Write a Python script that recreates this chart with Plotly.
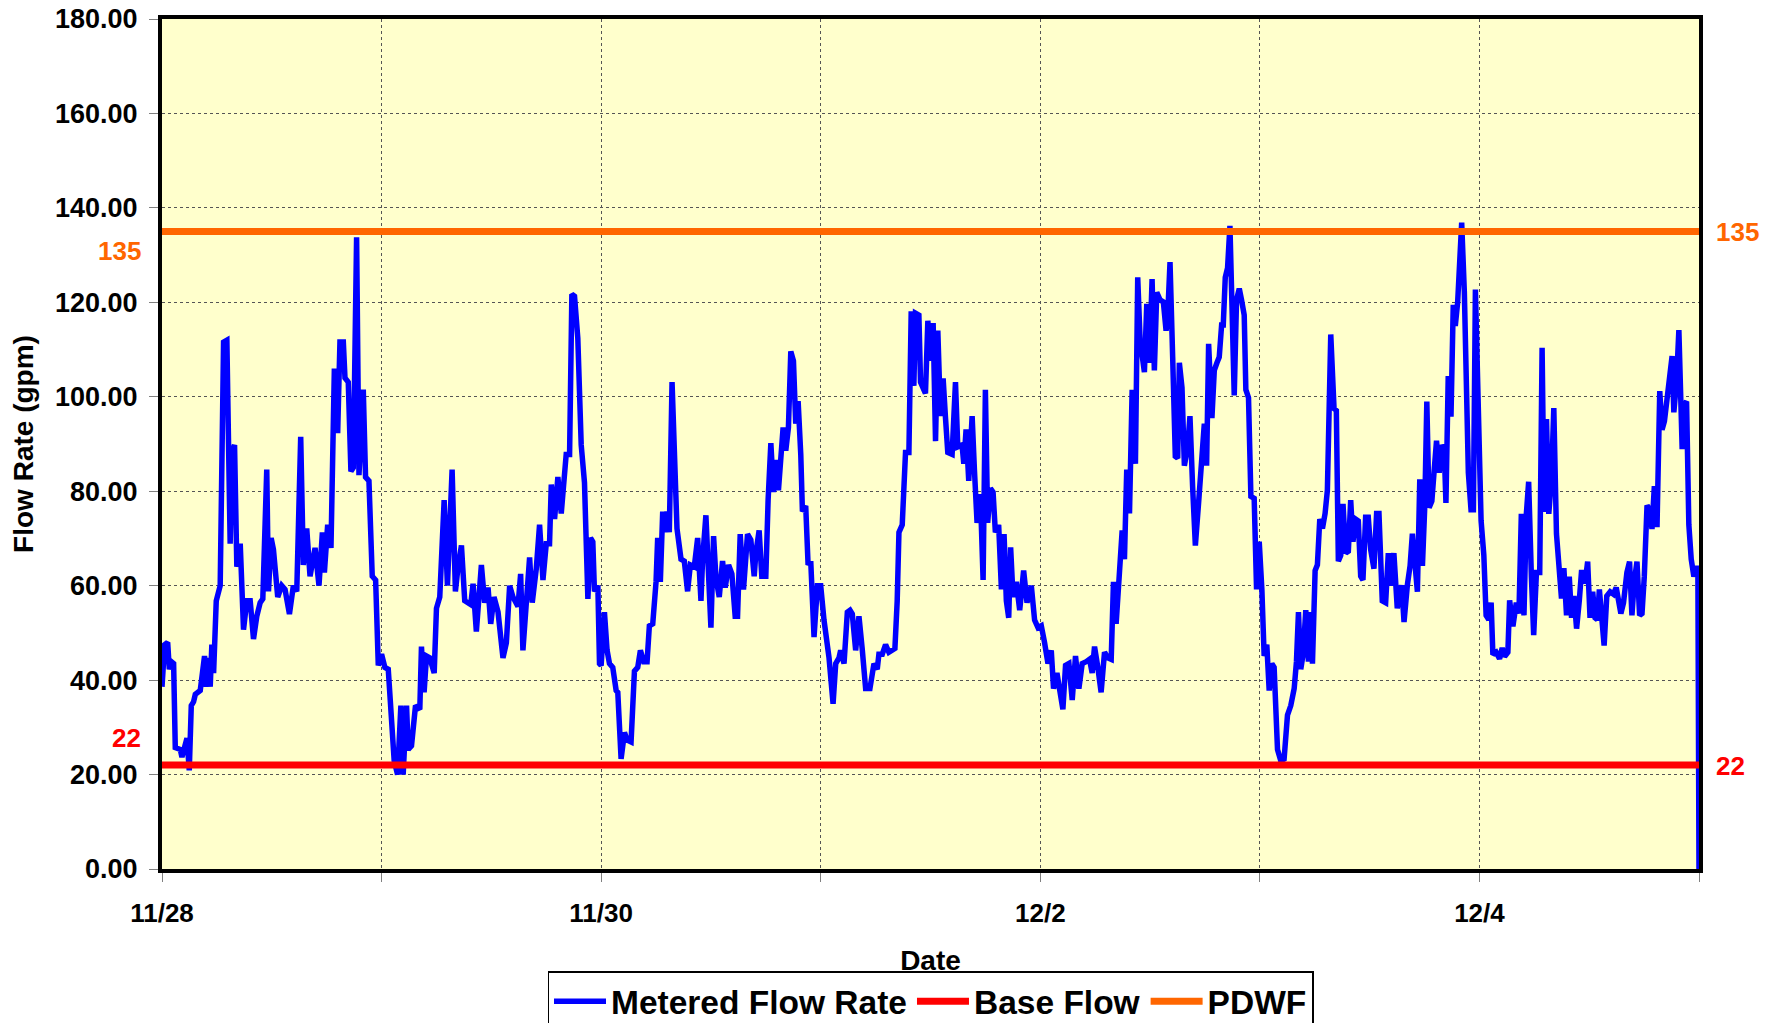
import pandas as pd
import plotly.graph_objects as go

# ---------------- data ----------------
start_date = "2008-11-28 00:00"
end_date = "2008-12-05 00:00"

# hours after 11/28 00:00
flow_hours = [
    0.0, 0.29, 0.62, 0.8, 1.02, 1.27, 1.45, 2.0, 2.18, 2.55, 2.73, 2.98, 3.2, 3.45, 3.64, 4.18, 4.65, 4.84,
    5.09, 5.27, 5.45, 5.64, 5.93, 6.36, 6.55, 6.73, 7.09, 7.27, 7.45, 7.64, 7.93, 8.18, 8.55, 8.91, 9.27,
    9.64, 10.0, 10.36, 10.73, 11.02, 11.45, 11.64, 11.93, 12.18, 12.65, 13.09, 13.45, 13.93, 14.36, 14.73,
    15.16, 15.45, 15.82, 16.18, 16.73, 17.16, 17.53, 17.75, 18.11, 18.47, 18.84, 19.2, 19.45, 19.82, 20.0,
    20.36, 20.65, 20.91, 21.27, 21.53, 22.0, 22.25, 22.62, 22.98, 23.35, 23.64, 24.0, 24.36, 24.73, 25.38,
    25.75, 26.11, 26.36, 26.73, 26.91, 27.27, 27.71, 28.18, 28.36, 28.65, 28.91, 29.27, 29.75, 30.0, 30.36,
    30.84, 31.2, 31.71, 32.07, 32.36, 32.73, 33.09, 33.75, 34.0, 34.36, 34.91, 35.27, 35.64, 35.93, 36.29,
    36.73, 37.27, 37.64, 38.0, 38.36, 38.91, 39.2, 39.45, 39.82, 40.18, 40.47, 40.91, 41.27, 41.64, 42.0,
    42.36, 42.55, 42.91, 43.27, 43.64, 44.18, 44.55, 44.8, 45.09, 45.45, 45.82, 46.18, 46.55, 46.84, 47.09,
    47.27, 47.64, 47.82,
    48.0, 48.36, 48.65, 48.91, 49.27, 49.64, 49.82, 50.18, 50.55, 50.84, 51.27, 51.64, 52.0, 52.29, 52.65,
    53.02, 53.27, 53.64, 54.0, 54.18, 54.47, 54.73, 54.98, 55.2, 55.45, 55.75, 56.07, 56.29, 56.73, 57.09,
    57.45, 57.75, 58.18, 58.55, 58.91, 59.09, 59.45, 59.71, 60.0, 60.29, 60.55, 60.91, 61.27, 61.56, 61.93,
    62.29, 62.65, 62.91, 63.2, 63.56, 64.0, 64.36, 64.73, 64.91, 65.27, 65.56, 66.0, 66.25, 66.55, 66.84,
    67.09, 67.38, 67.64, 67.89, 68.18, 68.47, 68.73, 69.02, 69.27, 69.53, 69.82, 70.0, 70.36, 70.62, 70.91,
    71.27, 71.64, 72.0, 72.36, 72.91, 73.35, 73.64, 74.0, 74.18, 74.55, 74.91, 75.2, 75.45, 75.82, 76.18,
    76.55, 76.91, 77.38, 77.82, 78.18, 78.36, 78.73, 79.09, 79.45, 79.82, 80.11, 80.36, 80.55, 80.91, 81.27,
    81.64, 81.89, 82.18, 82.36, 82.73, 82.91, 83.45, 83.71, 84.0, 84.29, 84.55, 84.8, 85.09, 85.38, 85.64,
    85.89, 86.36, 86.73, 86.98, 87.45, 87.64, 87.89, 88.18, 88.55, 88.8, 89.09, 89.45, 89.75, 90.0, 90.25,
    90.55, 90.84, 91.09, 91.45,
    91.75, 92.04, 92.29, 92.55, 92.76, 93.02, 93.38, 93.75, 94.18, 94.55, 95.02, 95.38, 95.75, 96.11, 96.47,
    96.84, 97.2, 97.45, 97.82, 98.18, 98.47, 98.76, 99.13, 99.49, 99.85, 100.22, 100.58, 101.02, 101.38,
    101.67, 101.93, 102.29, 102.65, 103.02, 103.38, 103.75, 104.0, 104.29, 104.73, 104.95, 105.2, 105.45,
    105.75, 106.04, 106.4, 106.65, 106.91, 107.38, 107.64, 107.93, 108.22, 108.47, 108.73, 109.09, 109.45,
    109.75, 109.93, 110.18, 110.47, 110.76, 111.02, 111.2, 111.49, 111.75, 112.11, 112.36, 112.65, 112.95,
    113.31, 113.67, 113.93, 114.18, 114.4, 114.76, 115.02, 115.31, 115.56, 115.82, 116.0, 116.22, 116.47,
    116.73, 117.02, 117.2, 117.45, 117.75, 118.0, 118.29, 118.47, 118.76, 119.02, 119.38, 119.64, 119.93,
    120.22, 120.47, 120.76, 121.02, 121.31, 121.56, 121.93, 122.29, 122.65, 123.02, 123.38, 123.75, 124.0,
    124.22, 124.47, 124.73, 125.02, 125.31, 125.56, 125.75, 126.04, 126.29, 126.55, 126.84, 127.13, 127.38,
    127.75, 128.11, 128.36, 128.58, 128.84, 129.09, 129.38, 129.67, 129.93, 130.18, 130.47, 130.76, 131.02,
    131.27, 131.56, 131.85, 132.11, 132.47, 132.76, 133.02, 133.38, 133.75, 134.04, 134.29, 134.65, 135.02,
    135.5, 135.76, 136.12, 136.42, 136.67, 136.93, 137.22, 137.48, 137.77, 138.03, 138.25, 138.5, 138.8,
    139.05, 139.31, 139.6, 139.9, 140.15, 140.34, 140.59, 140.89, 141.14, 141.36, 141.62, 141.8, 142.06,
    142.35, 142.53, 142.79, 143.08, 143.34, 143.56, 143.82, 144.18, 144.48, 144.73, 145.03, 145.28, 145.47,
    145.83, 146.2, 146.49, 146.75, 147.11, 147.3, 147.66, 148.03, 148.32, 148.58, 148.87, 149.13, 149.38,
    149.68, 149.93, 150.23, 150.59, 150.85, 151.07, 151.33, 151.58, 151.88, 152.13, 152.42, 152.72, 152.97,
    153.23, 153.52, 153.82, 154.07, 154.33, 154.62, 154.92, 155.17, 155.54, 155.83, 156.09, 156.38, 156.64,
    156.89, 157.11, 157.37, 157.63, 157.92, 158.29, 158.65, 158.95, 159.2, 159.46, 159.75, 160.12, 160.41,
    160.67, 160.92, 161.22, 161.51, 161.77, 162.02, 162.32, 162.61, 162.86, 163.12, 163.41, 163.71, 163.96,
    164.22, 164.51, 164.81, 165.06, 165.25, 165.54, 165.8, 165.98, 166.16, 166.42, 166.64, 166.89, 167.15,
    167.44, 167.74, 167.88, 168.0,
]

flow_gpm = [
    38.6, 47.5, 48.0, 42.3, 43.9, 43.5, 25.7, 25.3, 23.7, 27.3, 27.7, 20.9, 34.6, 35.4, 37.0, 37.8, 45.1, 38.6,
    44.7, 38.6, 47.5, 41.5, 56.8, 60.0, 93.1, 111.6, 112.0, 90.6, 68.9, 88.2, 89.8, 64.0, 68.9, 50.7, 56.8,
    56.8, 48.7, 53.5, 56.4, 57.2, 84.6, 58.8, 70.1, 67.7, 57.6, 60.0, 59.2, 54.0, 60.0, 58.8,
    91.5, 64.4, 72.1, 62.0, 68.0, 60.0, 71.3, 62.8, 72.9, 68.0, 106.0, 92.3, 111.6, 111.6, 104.0,
    103.1, 84.2, 85.0, 133.8, 83.4, 101.5, 83.0, 82.2, 62.0, 61.2, 43.1, 45.5, 42.7, 42.3, 22.9,
    20.0, 34.6, 20.0, 34.6, 25.3, 26.1, 34.6, 33.8, 47.1, 37.4, 45.1, 44.7, 41.5, 55.2, 57.6,
    78.1, 60.0, 84.6, 58.8, 64.0, 68.5, 56.8, 56.0, 60.4, 50.3, 64.4, 56.4, 59.6, 51.9, 57.6,
    54.4, 44.7, 47.9, 60.0, 57.6, 55.6, 62.5, 46.3, 56.0, 66.0, 56.4, 63.6, 72.9, 61.2, 68.9,
    68.9, 81.4, 74.1, 83.0, 75.3, 87.8, 87.8, 121.7, 121.3, 112.4, 89.8, 81.8, 57.2, 70.1, 69.3,
    58.8, 60.0, 43.5,
    43.1, 54.4, 46.3, 43.5, 42.7, 37.8, 37.4, 23.3, 28.9, 27.3, 26.9, 41.9, 42.7, 46.3, 43.9,
    43.9, 51.5, 51.9, 60.8, 70.1, 60.8, 75.7, 71.3, 75.7, 71.3, 103.1, 86.6, 72.1, 65.6, 65.2,
    58.8, 64.4, 64.0, 70.1, 56.8, 65.6, 74.9, 60.8, 51.1, 70.5, 61.6, 57.6, 65.2, 59.6, 64.4,
    62.5, 53.5, 53.5, 70.9, 59.2, 70.9, 69.7, 62.0, 66.9, 71.7, 62.0, 62.0, 78.1, 90.2, 79.8,
    86.6, 80.2, 86.6, 93.5, 88.6, 93.5, 109.6, 107.6, 94.3, 99.1, 87.8, 75.7, 76.9, 64.4, 65.2,
    49.1, 60.0, 60.0, 52.7, 44.7, 35.0, 43.5, 44.7, 46.3, 43.5, 54.4, 54.8, 54.0, 46.3, 53.5,
    46.3, 38.2, 38.2, 43.5, 42.3, 45.5, 45.5, 47.5, 45.9, 46.3, 46.7, 56.8, 71.3, 72.9, 88.2,
    88.2, 118.1, 102.3, 117.7, 117.3, 103.1, 100.7, 116.1, 107.6, 115.6, 90.6, 114.0, 95.9, 103.9, 95.5,
    88.2, 87.8, 103.1, 89.4, 89.8, 85.8, 93.1, 82.2, 95.9, 84.6, 73.3, 79.4, 61.2, 101.5, 73.3,
    80.6, 79.8, 71.3, 72.9,
    59.2, 70.9, 56.8, 53.2, 68.1, 57.6, 60.8, 54.8, 63.2, 56.4, 60.0, 52.7, 51.1, 51.5, 47.9,
    43.5, 46.3, 38.2, 41.5, 37.0, 33.8, 43.1, 43.5, 35.8, 45.1, 38.2, 43.5, 43.9, 44.4,
    41.5, 47.1, 42.7, 37.4, 45.9, 44.7, 44.4, 60.8, 51.9, 65.2, 71.7, 65.6, 84.6,
    75.3, 101.5, 85.8, 125.3, 112.0, 105.2, 119.7, 107.2, 124.9, 105.6, 122.1, 120.5, 120.1,
    114.0, 117.3, 128.5, 108.4, 87.4, 87.0, 107.2, 101.9, 85.4, 89.4, 95.9, 81.0, 68.5,
    77.7, 90.2, 94.3, 85.4, 111.2, 95.5, 105.6, 107.2, 108.4, 115.2, 115.2, 125.3, 127.3,
    136.2, 113.6, 100.3, 120.5, 122.9, 120.5, 117.3, 101.5, 99.8, 78.9, 78.5, 59.2, 69.3,
    59.2, 45.1, 47.5, 37.8, 43.5, 42.7, 25.3, 22.9, 23.3, 32.6, 34.6, 38.2, 43.9,
    54.4, 42.3, 45.5, 54.8, 43.9, 54.4, 43.5, 63.2, 64.4, 74.1, 72.1, 75.3, 80.2,
    113.2, 97.5, 97.1, 65.2, 66.4, 77.3, 66.9, 67.3, 78.1, 69.3, 74.1, 73.7, 62.0,
    61.2, 74.5, 74.5, 67.7, 63.6, 75.3, 75.3, 56.8, 56.4, 66.9, 60.0, 66.9, 55.2,
    60.1, 52.3, 60.1, 64.2, 71.0, 64.2, 58.7, 82.5, 64.2, 77.0, 99.0, 76.5, 77.9,
    84.3, 90.7, 83.9, 89.8, 88.9, 77.5, 104.4, 95.8, 119.5, 115.0, 120.0, 126.9, 136.9,
    122.3, 104.9, 83.9, 76.1, 76.1, 122.7, 100.3, 73.8, 66.5, 53.7, 52.8, 56.4, 45.4,
    45.9, 44.5, 46.8, 45.0, 45.9, 56.9, 51.4, 56.4, 54.1, 75.2, 53.7, 75.2, 82.0,
    61.9, 49.5, 62.8, 62.8, 110.4, 75.6, 95.3, 75.2, 82.9, 97.6, 71.0, 63.3, 57.3,
    63.7, 53.7, 61.9, 53.2, 57.8, 50.9, 56.9, 63.3, 60.5, 65.1, 53.2, 58.7, 53.2,
    52.8, 59.2, 52.8, 47.3, 57.8, 58.7, 58.2, 59.6, 56.9, 54.1, 56.4, 62.8, 65.1,
    53.7, 60.8, 65.1, 53.7, 54.1, 61.9, 77.0, 76.1, 72.0, 81.1, 72.4, 101.2, 93.0,
    94.8, 99.0, 105.4, 108.6, 96.7, 103.1, 114.1, 102.2, 88.9, 98.5, 99.0, 72.9, 65.6,
    61.9, 64.2, 62.0, 0.0,
]

base_flow = 22
pdwf = 135

y_ticks = [0, 20, 40, 60, 80, 100, 120, 140, 160, 180]
x_tick_labels = ["11/28", "11/30", "12/2", "12/4"]
x_tick_dates = ["2008-11-28", "2008-11-30", "2008-12-02", "2008-12-04"]

# ---------------- figure ----------------
t0 = pd.Timestamp(start_date)
flow_time = [t0 + pd.Timedelta(hours=h) for h in flow_hours]

FONT = "Liberation Sans, Arial, sans-serif"

fig = go.Figure()
fig.add_trace(go.Scatter(
    x=flow_time, y=flow_gpm, mode="lines", name="Metered Flow Rate",
    line=dict(color="#0000FF", width=5.5),
))
fig.add_trace(go.Scatter(
    x=[start_date, end_date], y=[base_flow, base_flow], mode="lines", name="Base Flow",
    line=dict(color="#FF0000", width=7),
))
fig.add_trace(go.Scatter(
    x=[start_date, end_date], y=[pdwf, pdwf], mode="lines", name="PDWF",
    line=dict(color="#FF6600", width=7),
))

ann_font = dict(family=FONT, size=26, weight="bold")
fig.add_annotation(x=-0.0277, xref="paper", y=130.9, yref="y", text=str(pdwf),
                   xanchor="center", yanchor="middle",
                   showarrow=False, font=dict(ann_font, color="#FF6600"))
fig.add_annotation(x=1.025, xref="paper", y=pdwf, yref="y", text=str(pdwf),
                   xanchor="center", yanchor="middle",
                   showarrow=False, font=dict(ann_font, color="#FF6600"))
fig.add_annotation(x=-0.0228, xref="paper", y=27.7, yref="y", text=str(base_flow),
                   xanchor="center", yanchor="middle",
                   showarrow=False, font=dict(ann_font, color="#FF0000"))
fig.add_annotation(x=1.0208, xref="paper", y=21.8, yref="y", text=str(base_flow),
                   xanchor="center", yanchor="middle",
                   showarrow=False, font=dict(ann_font, color="#FF0000"))

fig.update_layout(
    width=1773, height=1015,
    margin=dict(l=154, r=82, t=11, b=154, autoexpand=False),
    paper_bgcolor="white",
    plot_bgcolor="#FFFFCC",
    font=dict(family=FONT, size=26, color="black", weight="bold"),
    showlegend=True,
    legend=dict(
        orientation="h", x=0.5, xanchor="center", y=-0.1205, yanchor="top",
        bordercolor="black", borderwidth=1.5, bgcolor="white",
        font=dict(family=FONT, size=33.5, weight="bold"),
        itemwidth=52, tracegroupgap=0,
    ),
)

fig.update_xaxes(
    type="date",
    range=[start_date, end_date],
    tickvals=x_tick_dates, ticktext=x_tick_labels,
    ticks="outside", ticklen=9, tickcolor="#808080",
    ticklabelstandoff=9,
    tickfont=dict(family=FONT, size=26, weight="bold"),
    showgrid=True, gridcolor="#555555", griddash="dot", gridwidth=1,
    minor=dict(dtick=86400000, tick0=start_date, showgrid=True, gridcolor="#555555",
               griddash="dot", gridwidth=1, ticks="outside", ticklen=9, tickcolor="#808080"),
    showline=True, linecolor="black", linewidth=4, mirror=True,
    zeroline=False,
    title=dict(text="Date", font=dict(family=FONT, size=28, weight="bold"), standoff=24),
    automargin=False,
)
fig.update_yaxes(
    range=[0, 180], tickvals=y_ticks, tickformat=".2f",
    ticks="outside", ticklen=9, tickcolor="#808080",
    ticklabelstandoff=6, ticklabeloverflow="allow",
    tickfont=dict(family=FONT, size=27, weight="bold"),
    showgrid=True, gridcolor="#555555", griddash="dot", gridwidth=1,
    showline=True, linecolor="black", linewidth=4, mirror=True,
    zeroline=False,
    title=dict(text="Flow Rate (gpm)", font=dict(family=FONT, size=28, weight="bold"), standoff=15),
    automargin=False,
)

fig.write_html("out.html")
